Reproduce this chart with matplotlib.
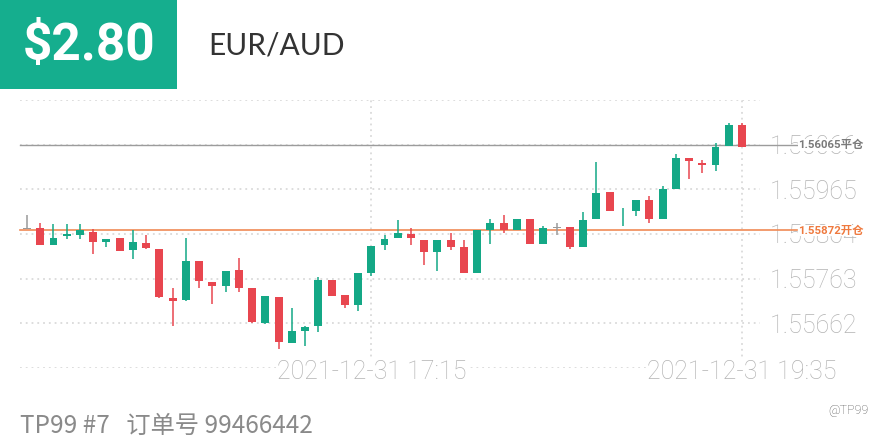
import numpy as np
import matplotlib
matplotlib.use('Agg')
import matplotlib.pyplot as plt
from matplotlib.patches import Rectangle
import matplotlib.transforms as mtransforms

plt.rcParams['font.family'] = ['Roboto', 'Noto Sans CJK SC', 'DejaVu Sans']

# 5-minute candles, 2021-12-31 15:05 .. 19:35
opens = [1.55877, 1.55877, 1.55838, 1.55859, 1.55861, 1.55868, 1.55847, 1.55854, 1.55827, 1.55843,
         1.55829, 1.55719, 1.55714, 1.55802, 1.55755, 1.55746, 1.55782, 1.55741, 1.55662, 1.55721,
         1.55617, 1.55644, 1.55655, 1.55761, 1.55725, 1.55703, 1.55775, 1.55838, 1.55854, 1.55863,
         1.55850, 1.55823, 1.55850, 1.55834, 1.55775, 1.55872, 1.55890, 1.55872, 1.55897, 1.55841,
         1.55879, 1.55879, 1.55834, 1.55897, 1.55960, 1.55913, 1.55915, 1.55942, 1.55899, 1.55965,
         1.56035, 1.56024, 1.56019, 1.56062, 1.56110]
highs = [1.55906, 1.55890, 1.55886, 1.55886, 1.55886, 1.55875, 1.55852, 1.55856, 1.55872, 1.55861,
         1.55829, 1.55743, 1.55856, 1.55804, 1.55755, 1.55780, 1.55809, 1.55743, 1.55723, 1.55721,
         1.55696, 1.55655, 1.55766, 1.55761, 1.55725, 1.55775, 1.55836, 1.55861, 1.55895, 1.55877,
         1.55850, 1.55850, 1.55866, 1.55850, 1.55872, 1.55899, 1.55908, 1.55899, 1.55897, 1.55881,
         1.55888, 1.55879, 1.55913, 1.56026, 1.55960, 1.55922, 1.55942, 1.55949, 1.55972, 1.56046,
         1.56035, 1.56031, 1.56069, 1.56116, 1.56114]
lows = [1.55876, 1.55838, 1.55838, 1.55852, 1.55852, 1.55818, 1.55834, 1.55825, 1.55807, 1.55830,
        1.55719, 1.55657, 1.55712, 1.55743, 1.55705, 1.55732, 1.55732, 1.55662, 1.55660, 1.55605,
        1.55617, 1.55610, 1.55642, 1.55723, 1.55696, 1.55689, 1.55768, 1.55827, 1.55854, 1.55838,
        1.55793, 1.55780, 1.55827, 1.55775, 1.55775, 1.55841, 1.55866, 1.55872, 1.55841, 1.55841,
        1.55861, 1.55829, 1.55834, 1.55897, 1.55915, 1.55881, 1.55904, 1.55888, 1.55899, 1.55965,
        1.55988, 1.56001, 1.56006, 1.56062, 1.56060]
closes = [1.55877, 1.55838, 1.55856, 1.55863, 1.55872, 1.55847, 1.55852, 1.55825, 1.55845, 1.55832,
          1.55721, 1.55712, 1.55804, 1.55757, 1.55746, 1.55780, 1.55743, 1.55664, 1.55723, 1.55619,
          1.55644, 1.55653, 1.55759, 1.55723, 1.55703, 1.55775, 1.55836, 1.55852, 1.55866, 1.55854,
          1.55823, 1.55850, 1.55834, 1.55775, 1.55872, 1.55890, 1.55872, 1.55897, 1.55841, 1.55877,
          1.55879, 1.55834, 1.55895, 1.55956, 1.55915, 1.55914, 1.55942, 1.55897, 1.55965, 1.56035,
          1.56028, 1.56019, 1.56060, 1.56110, 1.56060]

y_ticks = [1.55561, 1.55662, 1.55763, 1.55864, 1.55965, 1.56066, 1.56167]
y_labels = ['', '1.55662', '1.55763', '1.55864', '1.55965', '1.56066', '']
x_tick_idx = [26, 54]
x_labels = ['2021-12-31 17:15', '2021-12-31 19:35']

open_price = 1.55872
close_price = 1.56065
open_tag = '1.55872开仓'
close_tag = '1.56065平仓'

profit = '$2.80'
pair = 'EUR/AUD'
footer = 'TP99 #7   订单号 99466442'
handle = '@TP99'

GREEN = '#14a886'
RED = '#e8464f'
GRAY = '#9a9a9a'
TEAL = '#15ae8e'

W, H = 880, 440
fig = plt.figure(figsize=(8.8, 4.4), dpi=100)
fig.patch.set_facecolor('white')

# chart area: x 20..760 px, y 100..368 px
ax = fig.add_axes([20 / W, 1 - 368 / H, 740 / W, 268 / H])
ax.set_facecolor('white')
for s in ax.spines.values():
    s.set_visible(False)

n = len(opens)
x = np.arange(n)
o = np.array(opens)
c = np.array(closes)
colors = [GREEN if cc > oo else (RED if cc < oo else GRAY) for oo, cc in zip(o, c)]

ax.vlines(x, lows, highs, colors=colors, linewidth=1.1, zorder=3)
body_h = np.maximum(np.abs(c - o), 0.000012)
ax.bar(x, body_h, bottom=np.minimum(o, c) - np.where(c == o, 0.000006, 0), width=0.6,
       color=colors, linewidth=0, zorder=4)

ax.set_xlim(-0.53, 55.36)
ax.set_ylim(y_ticks[0], y_ticks[-1])

# dotted grid
for yt in y_ticks:
    ax.axhline(yt, color='#dadada', linewidth=1.3, linestyle=(0, (1, 2.2)), zorder=1)
for xi in x_tick_idx:
    ax.axvline(xi, color='#dadada', linewidth=1.3, linestyle=(0, (1, 2.2)), zorder=1)

ax.set_xticks([])
ax.yaxis.tick_right()
ax.set_yticks(y_ticks)
ax.set_yticklabels(y_labels)
ax.tick_params(axis='y', length=0, pad=7, labelsize=18, labelcolor='#b3b3b3')
for lab in ax.get_yticklabels():
    lab.set_fontweight('light')

# x labels sit on the bottom grid line with white background
blend = mtransforms.blended_transform_factory(ax.transData, ax.transAxes)
for xi, lab in zip(x_tick_idx, x_labels):
    ax.text(xi, -0.015, lab, transform=blend, ha='center', va='center', fontsize=18,
            color='#b3b3b3', fontweight='light', zorder=6,
            bbox=dict(facecolor='white', edgecolor='none', pad=0.5))

# open / close position lines with tags
x_end = 55.36 + 37 / 13.24
ax.plot([-0.53, x_end], [close_price, close_price], color='#9c9c9c', linewidth=1.0,
        clip_on=False, zorder=2)
ax.plot([-0.53, x_end], [open_price, open_price], color='#f08a55', linewidth=1.2,
        clip_on=False, zorder=2)
ax.text(x_end + 0.1, close_price, close_tag, ha='left', va='center', fontsize=8.2,
        color='#7a7a7a', fontweight='bold', clip_on=False, zorder=7,
        bbox=dict(facecolor='white', edgecolor='none', pad=0.6))
ax.text(x_end + 0.1, open_price, open_tag, ha='left', va='center', fontsize=8.2,
        color='#ef7a3f', fontweight='bold', clip_on=False, zorder=7,
        bbox=dict(facecolor='white', edgecolor='none', pad=0.6))

# header
fig.add_artist(Rectangle((0, 1 - 89 / H), 177 / W, 89 / H, transform=fig.transFigure,
                         facecolor=TEAL, edgecolor='none'))
fig.text(89 / W, 1 - 46 / H, profit, ha='center', va='center', fontsize=37,
         fontweight='bold', color='white')
fig.text(208 / W, 1 - 46 / H, pair, ha='left', va='center', fontsize=21.5,
         color='#333333', family=['Lato', 'DejaVu Sans'])

# footer
fig.text(20 / W, 1 - 426 / H, footer, ha='left', va='center', fontsize=17.5,
         color='#8a8a8a', family=['Noto Sans CJK SC', 'DejaVu Sans'])
fig.text(868 / W, 1 - 410 / H, handle, ha='right', va='center', fontsize=9,
         color='#555555', fontweight='light')

fig.savefig('out.png', dpi=100, facecolor='white')
